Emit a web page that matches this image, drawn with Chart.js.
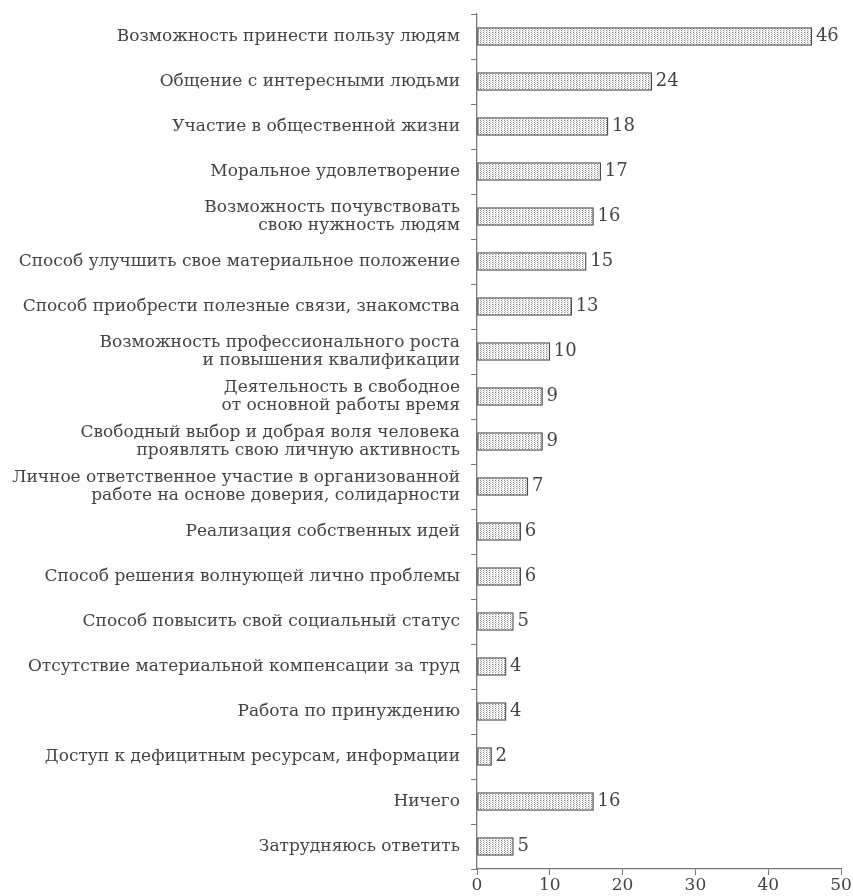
<!DOCTYPE html>
<html>
<head>
<meta charset="utf-8">
<script src="https://cdn.jsdelivr.net/npm/chart.js@4.4.0/dist/chart.umd.min.js"></script>
<style>
  html, body { margin: 0; padding: 0; background: #fff; }
  #wrap { width: 853px; height: 896px; position: relative; }
</style>
</head>
<body>
<div id="wrap"><canvas id="chart"></canvas></div>
<script>
// Данные
const categories = [
    'Возможность принести пользу людям',
    'Общение с интересными людьми',
    'Участие в общественной жизни',
    'Моральное удовлетворение',
    ['Возможность почувствовать', 'свою нужность людям'],
    'Способ улучшить свое материальное положение',
    'Способ приобрести полезные связи, знакомства',
    ['Возможность профессионального роста', 'и повышения квалификации'],
    ['Деятельность в свободное', 'от основной работы время'],
    ['Свободный выбор и добрая воля человека', 'проявлять свою личную активность'],
    ['Личное ответственное участие в организованной', 'работе на основе доверия, солидарности'],
    'Реализация собственных идей',
    'Способ решения волнующей лично проблемы',
    'Способ повысить свой социальный статус',
    'Отсутствие материальной компенсации за труд',
    'Работа по принуждению',
    'Доступ к дефицитным ресурсам, информации',
    'Ничего',
    'Затрудняюсь ответить'
];
const values = [46, 24, 18, 17, 16, 15, 13, 10, 9, 9, 7, 6, 6, 5, 4, 4, 2, 16, 5];
const xTicks = [0, 10, 20, 30, 40, 50];

// Штриховка столбцов
function makePattern() {
    const p = document.createElement('canvas');
    p.width = 3; p.height = 4;
    const c = p.getContext('2d');
    c.fillStyle = '#ffffff';
    c.fillRect(0, 0, 3, 4);
    c.fillStyle = '#8a8a8a';
    c.fillRect(0, 0, 1, 1);
    c.fillRect(0, 2, 1, 1);
    c.fillStyle = '#c8c8c8';
    c.fillRect(1, 1, 1, 1);
    c.fillRect(1, 3, 1, 1);
    return document.getElementById('chart').getContext('2d').createPattern(p, 'repeat');
}

const FONT = "'DejaVu Serif', serif";

const valueLabels = {
    id: 'valueLabels',
    afterDatasetsDraw(chart) {
        const ctx = chart.ctx;
        const meta = chart.getDatasetMeta(0);
        ctx.save();
        ctx.font = '18px ' + FONT;
        ctx.fillStyle = '#444444';
        ctx.textAlign = 'left';
        ctx.textBaseline = 'middle';
        meta.data.forEach((bar, i) => {
            ctx.fillText(String(values[i]), bar.x + 4, bar.y);
        });
        ctx.restore();
    }
};

new Chart(document.getElementById('chart').getContext('2d'), {
    type: 'bar',
    data: {
        labels: categories,
        datasets: [{
            data: values,
            backgroundColor: makePattern(),
            borderColor: '#4a4a4a',
            borderWidth: 1.3,
            borderSkipped: false,
            barThickness: 18
        }]
    },
    options: {
        indexAxis: 'y',
        responsive: true,
        maintainAspectRatio: false,
        animation: false,
        layout: { padding: { top: 14, right: 12, left: 0, bottom: 0 } },
        plugins: { legend: { display: false }, tooltip: { enabled: false } },
        scales: {
            x: {
                min: 0, max: 50,
                afterBuildTicks: s => { s.ticks = xTicks.map(v => ({ value: v })); },
                afterFit: s => { s.height = 27; },
                grid: { drawOnChartArea: false, drawTicks: true, tickLength: 6, color: '#777' },
                border: { color: '#777', width: 1.3 },
                ticks: { color: '#444', font: { family: FONT, size: 17 }, padding: 0, maxRotation: 0 }
            },
            y: {
                afterFit: s => { s.width = 477; s.paddingTop = 0; s.paddingBottom = 0; },
                grid: { offset: true, drawOnChartArea: false, tickLength: 6, color: '#777' },
                border: { color: '#777', width: 1.3 },
                ticks: { color: '#444', font: { family: FONT, size: 17, lineHeight: 1.1 }, padding: 11 }
            }
        }
    },
    plugins: [valueLabels]
});
</script>
</body>
</html>
